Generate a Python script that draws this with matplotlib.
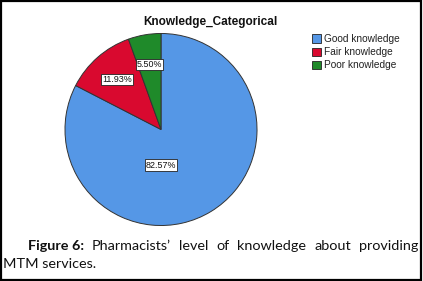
import matplotlib
matplotlib.use("Agg")
import matplotlib.pyplot as plt
from matplotlib.patches import Rectangle, Patch
import numpy as np

categories = ["Good knowledge", "Fair knowledge", "Poor knowledge"]
values = [82.57, 11.93, 5.50]
colors = ["#5597e6", "#d9092f", "#1f8a2a"]
title = "Knowledge_Categorical"
caption_bold = "Figure 6:"
caption_line1 = ["Pharmacists’", "level", "of", "knowledge", "about", "providing"]
caption_line2 = "MTM services."

W, H = 423, 281
DPI = 100
fig = plt.figure(figsize=(W / DPI, H / DPI), dpi=DPI)
fig.patch.set_facecolor("white")

def px(x, y, w, h):
    return [x / W, 1 - (y + h) / H, w / W, h / H]

# pie axes
cx, cy, r = 161, 129.5, 96.5
ax = fig.add_axes(px(cx - r, cy - r, 2 * r, 2 * r))
wedges, texts, autotexts = ax.pie(
    values, colors=colors, startangle=90, counterclock=False,
    autopct=lambda p: f"{p:.2f}%", pctdistance=0.69,
    wedgeprops=dict(edgecolor="#333333", linewidth=0.7),
    textprops=dict(fontsize=6.4, family="Liberation Sans", color="#111111"),
)
ax.set_xlim(-1.005, 1.005)
ax.set_ylim(-1.005, 1.005)
ax.set_aspect("equal")
ax.axis("off")
for t in autotexts:
    t.set_bbox(dict(boxstyle="square,pad=0.12", facecolor="white",
                    edgecolor="#222222", linewidth=0.6))
autotexts[0].set_position((0, -0.37))

fig.text(210 / W, 1 - 22 / H, title, ha="center", va="center",
         fontsize=8.5, fontweight="bold", family="Liberation Sans",
         color="#111111")

handles = [Patch(facecolor=c, edgecolor="#222222", linewidth=0.6) for c in colors]
fig.legend(handles, categories, loc="upper left",
           bbox_to_anchor=(312 / W, 1 - 34 / H), frameon=False,
           prop=dict(family="Liberation Sans", size=7.3),
           handlelength=0.9, handleheight=0.9, handletextpad=0.25,
           labelspacing=0.32, borderpad=0, borderaxespad=0,
           labelcolor="#222222")

# caption, justified line 1
fig.canvas.draw()
renderer = fig.canvas.get_renderer()
cap_kw = dict(fontsize=10.4, family="Lato", color="#111111", va="baseline")
words = [(caption_bold, "bold")] + [(w, "normal") for w in caption_line1]
objs = []
for w, wt in words:
    t = fig.text(0, 1 - 250 / H, w, fontweight=wt, **cap_kw)
    objs.append(t)
widths = [t.get_window_extent(renderer).width for t in objs]
x0, x1 = 28, 418
gap = (x1 - x0 - sum(widths)) / (len(objs) - 1)
x = x0
for t, w in zip(objs, widths):
    t.set_x(x / W)
    x += w + gap
fig.text(3 / W, 1 - 268.5 / H, caption_line2, **cap_kw)

# outer border
fig.patches.append(Rectangle((0.5 / W, 1.5 / H), (W - 2.5) / W, (H - 2.5) / H,
                             transform=fig.transFigure, fill=False,
                             edgecolor="black", linewidth=1.6))

fig.savefig("out.png", dpi=DPI, facecolor="white")
